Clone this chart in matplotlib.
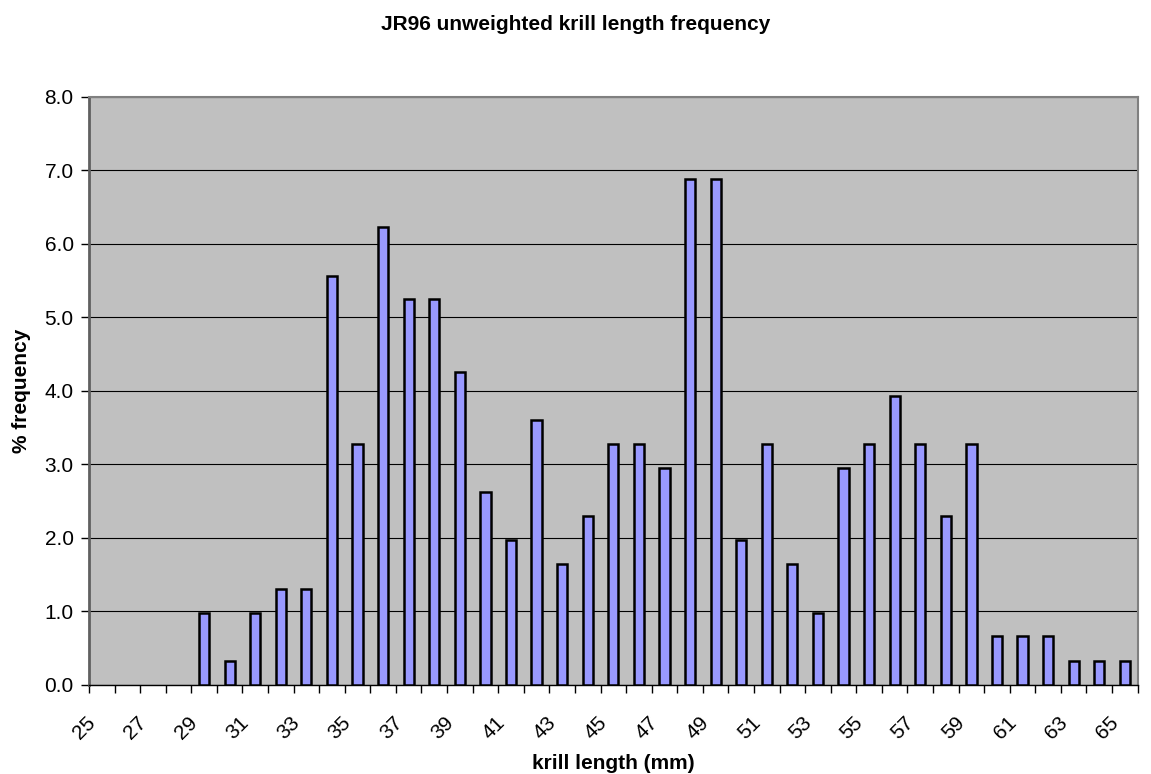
import matplotlib
matplotlib.use("Agg")
import matplotlib.pyplot as plt
import matplotlib.transforms as mtransforms
import numpy as np

plt.rcParams['font.family'] = ['Liberation Sans', 'DejaVu Sans']

# krill length classes (mm) and % frequency
lengths = list(range(25, 66))
freq = [0, 0, 0, 0, 0.98, 0.33, 0.98, 1.31, 1.31, 5.57,
        3.28, 6.23, 5.25, 5.25, 4.26, 2.62, 1.97, 3.61, 1.64, 2.30,
        3.28, 3.28, 2.95, 6.89, 6.89, 1.97, 3.28, 1.64, 0.98, 2.95,
        3.28, 3.93, 3.28, 2.30, 3.28, 0.66, 0.66, 0.66, 0.33, 0.33,
        0.33]
yticks = [0, 1, 2, 3, 4, 5, 6, 7, 8]

fig = plt.figure(figsize=(11.51, 7.74), dpi=100)
ax = fig.add_axes([0.0773, 0.115, 0.9111, 0.7597])
ax.set_facecolor('#C0C0C0')

x = np.arange(len(lengths))
f = np.array(freq)
nz = f > 0  # empty classes get no bar
ax.bar(x[nz], f[nz], width=0.4, color='#9999FF', edgecolor='black', linewidth=1.8, zorder=3)

ax.set_xlim(-0.5, len(lengths) - 0.5)
ax.set_ylim(0, 8)
ax.set_yticks(yticks)
ax.set_yticklabels([f"{v:.1f}" for v in yticks], fontsize=15)
ax.yaxis.grid(True, color='black', linewidth=0.8, zorder=1)

# tick marks between categories, labels every other class
ax.set_xticks(np.arange(len(lengths) + 1) - 0.5, minor=True)
ax.set_xticks(x[::2])
ax.set_xticklabels([str(v) for v in lengths[::2]], rotation=45, ha='right',
                   rotation_mode='anchor', fontsize=15)
ax.tick_params(axis='x', which='major', length=0, pad=20)
ax.tick_params(axis='x', which='minor', length=6, width=1, color='black', direction='out')
ax.tick_params(axis='y', length=6, width=1, direction='out', pad=5)

# Excel puts the rotated labels a little left of the class centre
shift = mtransforms.ScaledTranslation(-16 / 100, 0, fig.dpi_scale_trans)
for lab in ax.get_xticklabels():
    lab.set_transform(lab.get_transform() + shift)

for side in ['top', 'right']:
    ax.spines[side].set_color('#808080')
    ax.spines[side].set_linewidth(1.5)
ax.spines['left'].set_color('#606060')
ax.spines['left'].set_linewidth(2)
ax.spines['bottom'].set_color('black')
ax.spines['bottom'].set_linewidth(1)

ax.set_xlabel('krill length (mm)', fontsize=15, fontweight='bold', labelpad=8)
ax.set_ylabel('% frequency', fontsize=15, fontweight='bold', labelpad=10)
fig.text(0.5, 0.968, 'JR96 unweighted krill length frequency', ha='center', va='center',
         fontsize=15, fontweight='bold')

fig.savefig('out.png', dpi=100)
